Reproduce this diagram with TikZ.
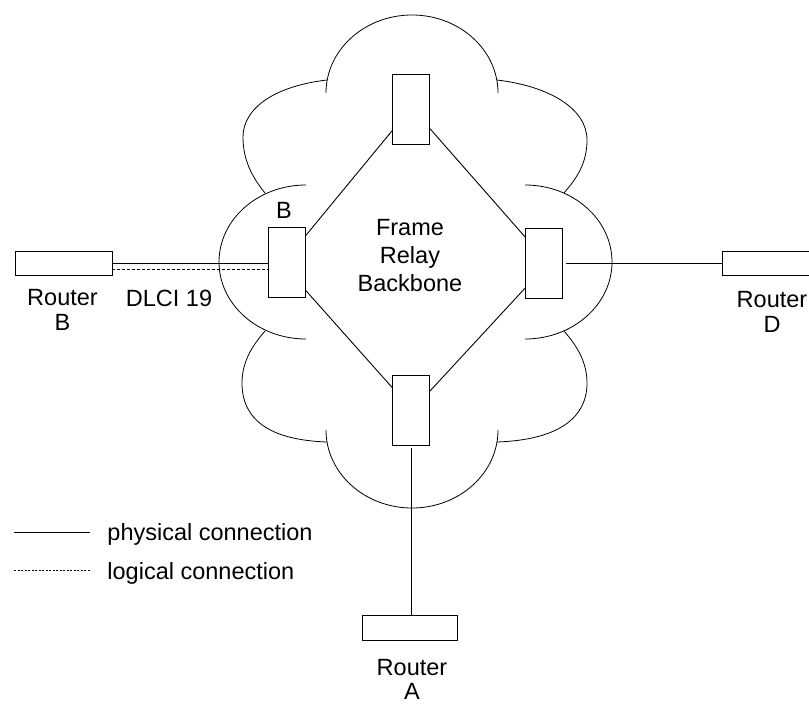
\documentclass[tikz,border=0pt]{standalone}
\usepackage{fontspec}
\setmainfont{Liberation Sans}
\begin{document}
\begin{tikzpicture}[x=1pt,y=-1pt, line width=0.9pt,
  sw/.style={draw, rectangle, inner sep=0pt, minimum width=37pt, minimum height=70pt},
  router/.style={draw, rectangle, inner sep=0pt, minimum width=96pt, minimum height=24pt},
  lbl/.style={font=\fontsize{23.5}{28}\selectfont, inner sep=0pt, align=center},
  rlbl/.style={lbl, anchor=north, font=\fontsize{23.5}{25}\selectfont},
  cloud/.style={draw, line width=0.8pt},
  logical/.style={dash pattern=on 3pt off 2pt},
  legenddot/.style={line width=0.7pt, dash pattern=on 2pt off 1.5pt}]
\useasboundingbox (0,0) rectangle (809,704);

% cloud outline
\draw[cloud] (326,93) arc[start angle=180, end angle=360, x radius=86, y radius=78];
\draw[cloud] (306,185) arc[start angle=270, end angle=90, x radius=87, y radius=77];
\draw[cloud] (525,185) arc[start angle=-90, end angle=90, x radius=87, y radius=77];
\draw[cloud] (326,430) arc[start angle=180, end angle=0, x radius=86, y radius=78];
\draw[cloud] (327,80) .. controls (275,86) and (243,108) .. (243,137) .. controls (243,160) and (252,177) .. (265,193);
\draw[cloud] (497,80) .. controls (548,86) and (587,108) .. (587,140) .. controls (587,163) and (577,178) .. (564,193);
\draw[cloud] (265,331) .. controls (252,346) and (242,362) .. (242,383) .. controls (242,420) and (270,440) .. (327,442);
\draw[cloud] (564,331) .. controls (577,346) and (587,362) .. (587,383) .. controls (587,420) and (555,440) .. (497,442);

% switches
\node[sw] (top) at (411,109) {};
\node[sw] (lsw) at (286.5,262) {};
\node[sw] (rsw) at (544,263) {};
\node[sw] (bot) at (411,410) {};

% routers
\node[router, minimum width=97pt] (rb) at (63.5,263) {};
\node[router] (rd) at (770,263) {};
\node[router, minimum width=95pt, minimum height=25pt] (ra) at (409.5,627.5) {};

% backbone links
\draw (top.229) -- (lsw.54);
\draw (lsw.304) -- (bot.130);
\draw (top.314) -- (rsw.126);
\draw (rsw.233) -- (bot.45);

% access links
\draw (rb.east) -- (rb.east -| lsw.west);
\draw[logical] (rb.352) -- (rb.352 -| lsw.west);
\draw ([xshift=3pt]rsw.east) -- (rd.west);
\draw ([yshift=-3pt]bot.south) -- (bot.south |- ra.north);

% labels
\node[lbl, anchor=base] (bl) at (284,218) {B};
\node[lbl, anchor=north, font=\fontsize{23.5}{27.7}\selectfont] (fr) at (410,219) {Frame\\Relay\\Backbone};
\node[rlbl] (rbl) at (62.5,289) {Router\\B};
\node[lbl, anchor=base] (dlci) at (169,306) {DLCI 19};
\node[rlbl] (rdl) at (772,291) {Router\\D};
\node[rlbl, font=\fontsize{23.5}{24}\selectfont] (ral) at (412,659) {Router\\A};

% legend
\coordinate (p1) at (14,532);
\coordinate (p2) at (90,532);
\coordinate (q1) at (14,570);
\coordinate (q2) at (90,570);
\draw (p1) -- (p2);
\draw[legenddot] (q1) -- (q2);
\node[lbl, anchor=base west] (phys) at (107,540) {physical connection};
\node[lbl, anchor=base west] (logi) at (107,579) {logical connection};
\end{tikzpicture}
\end{document}
